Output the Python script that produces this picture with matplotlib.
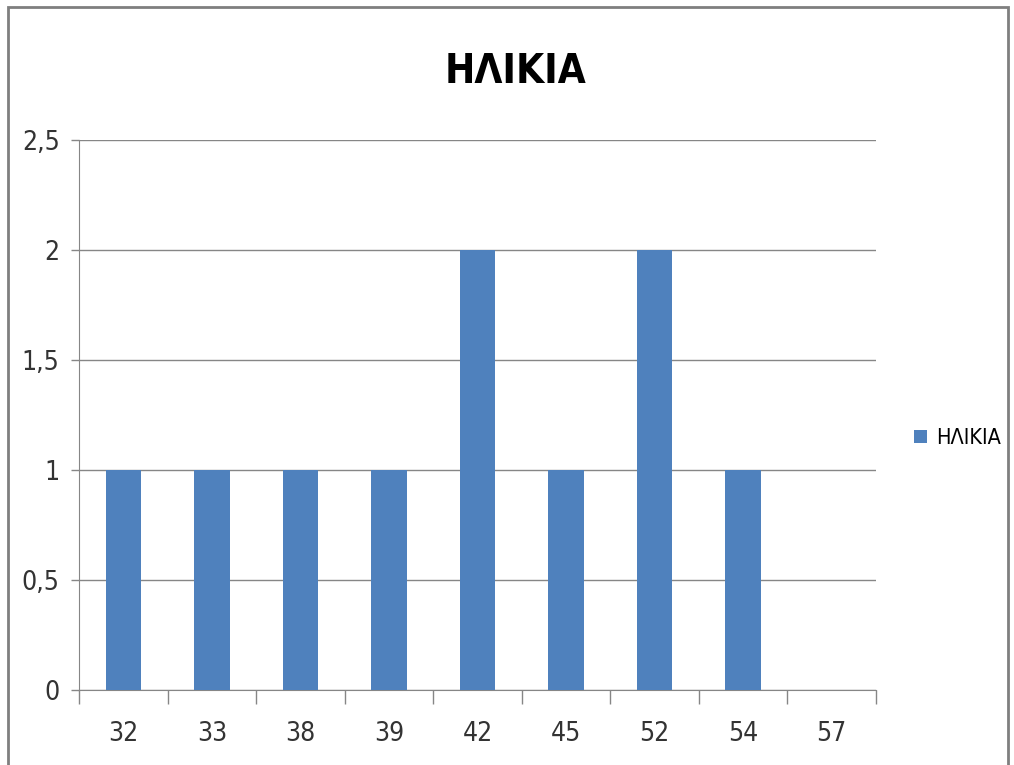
import numpy as np
import matplotlib.pyplot as plt
from matplotlib.patches import Rectangle
from matplotlib.ticker import FuncFormatter, MultipleLocator

plt.rcParams['font.family'] = ['DejaVu Sans']
plt.rcParams['font.stretch'] = 'condensed'

# data
ages = ['32', '33', '38', '39', '42', '45', '52', '54', '57']
counts = [1, 1, 1, 1, 2, 1, 2, 1, 0]
series_name = 'ΗΛΙΚΙΑ'

fig = plt.figure(figsize=(10.14, 7.65), dpi=100)
ax = fig.add_axes([79/1014, 1 - 690/765, (876 - 79)/1014, (690 - 140)/765])

x = np.arange(len(ages))
ax.bar(x, counts, width=0.4, color='#4F81BD', label=series_name, zorder=3)

ax.set_xlim(-0.5, len(ages) - 0.5)
ax.set_ylim(0, 2.5)
ax.yaxis.set_major_locator(MultipleLocator(0.5))
ax.yaxis.set_major_formatter(FuncFormatter(lambda v, p: ('%g' % v).replace('.', ',')))
ax.grid(axis='y', color='#868686', linewidth=1, zorder=0)

ax.set_xticks(x)
ax.set_xticklabels(ages)
ax.set_xticks(np.arange(len(ages) + 1) - 0.5, minor=True)
ax.tick_params(axis='x', which='major', length=0, pad=22, labelsize=19, colors='#333333')
ax.tick_params(axis='x', which='minor', length=10, width=1, color='#868686', direction='out')
ax.tick_params(axis='y', length=6, width=1, color='#868686', pad=8, labelsize=19, labelcolor='#333333')

for s in ['top', 'right']:
    ax.spines[s].set_visible(False)
for s in ['left', 'bottom']:
    ax.spines[s].set_color('#868686')

fig.text(515/1014, 1 - 72/765, series_name, ha='center', va='center', fontsize=29, fontweight='bold')

ax.legend(loc='center left', bbox_to_anchor=(895/1014, 1 - 438/765), bbox_transform=fig.transFigure,
          frameon=False, fontsize=15.5, handlelength=0.6, handleheight=0.6, handletextpad=0.4)

fig.patches.append(Rectangle((8/1014, -0.02), 1000/1014, 1 - 7/765 + 0.02, transform=fig.transFigure,
                             fill=False, edgecolor='#7f7f7f', linewidth=2))

fig.savefig('out.png')
